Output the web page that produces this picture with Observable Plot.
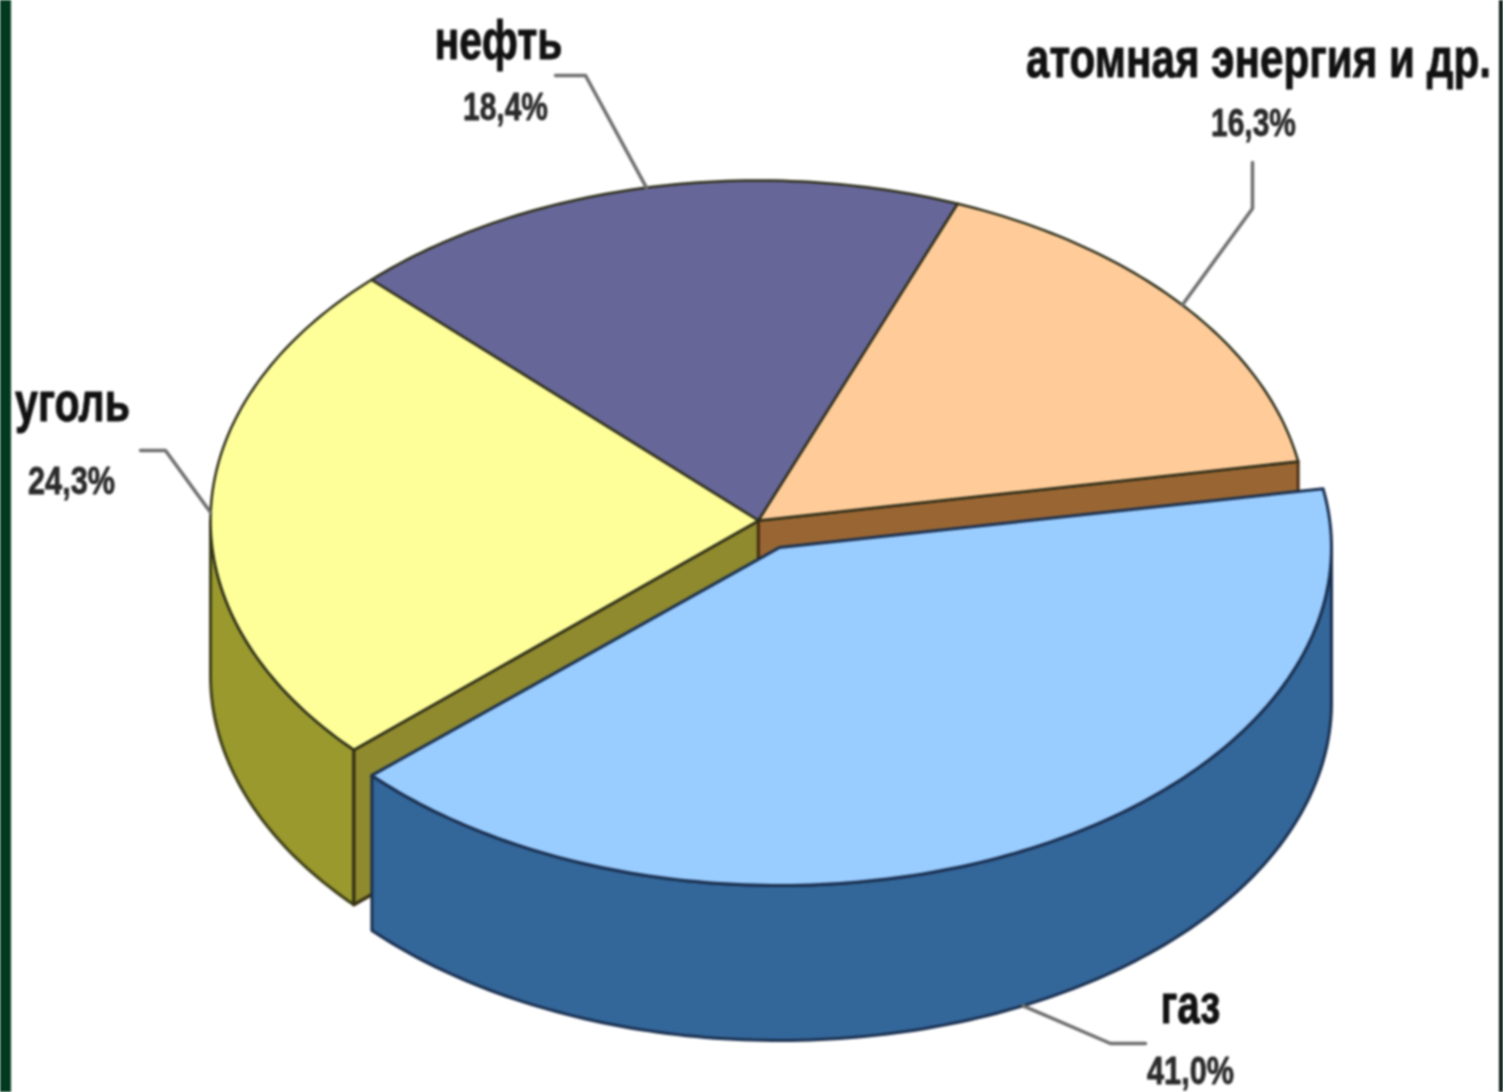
<!DOCTYPE html>
<html>
<head>
<meta charset="utf-8">
<script src="https://cdn.jsdelivr.net/npm/d3@7"></script>
<script src="https://cdn.jsdelivr.net/npm/@observablehq/plot@0.6"></script>
<style>
html,body{margin:0;padding:0;background:#fff;overflow:hidden}
svg{display:block;max-width:none;filter:blur(0.9px)}
</style>
</head>
<body>
<div id="chart"></div>
<script>
// Data, clockwise from the right-hand edge of the gas slice
const categories = ["газ", "уголь", "нефть", "атомная энергия и др."];
const shares = [41.0, 24.3, 18.4, 16.3];
const shareLabels = ["41,0%", "24,3%", "18,4%", "16,3%"];
const topColors = ["#99ccff", "#ffff99", "#666699", "#ffcc99"];
const sideColors = ["#336699", "#99992e", "#666699", "#996633"];

// Layout of the pseudo-3D pie
const W = 1503, H = 1092;
const startAngle = -10, depth = 155;
const mainPie = {cx: 758, cy: 520, rx: 548, ry: 340};
const gasPie = {cx: 779, cy: 547, rx: 552, ry: 338};
const labelStyle = [
  {name: [1190, 1005], pct: [1190, 1071], nameW: 60, pctW: 87, elbow: [[1110, 1043], [1145, 1043]]},
  {name: [72, 403], pct: [71, 481], nameW: 115, pctW: 87, elbow: [[165, 450], [140, 450]]},
  {name: [498, 41], pct: [505, 107], nameW: 128, pctW: 85, elbow: [[585, 75], [555, 75]]},
  {name: [1258, 59], pct: [1253, 123], nameW: 465, pctW: 85, elbow: [[1252, 208], [1252, 162]]}
];

let a = startAngle;
const slices = shares.map((s, i) => {
  const from = a;
  a += s * 3.6;
  return {i, from, to: a, mid: (from + a) / 2, pie: i === 0 ? gasPie : mainPie};
});

const pt = (p, deg, dz = 0) => {
  const t = deg * Math.PI / 180;
  return {x: p.cx + p.rx * Math.cos(t), y: p.cy + p.ry * Math.sin(t) + dz};
};
const arc = (p, from, to, dz = 0) => {
  const n = Math.max(2, Math.ceil(Math.abs(to - from)));
  return d3.range(n + 1).map(k => pt(p, from + (to - from) * k / n, dz));
};
const apex = (p, dz = 0) => ({x: p.cx, y: p.cy + dz});
const close = pts => [...pts, pts[0]];

const poly = (pts, fill, stroke = "#2a2a2a", sw = 2.5) =>
  Plot.line(close(pts), {x: "x", y: "y", fill, stroke, strokeWidth: sw, curve: "linear", strokeLinejoin: "round"});

const [gas, coal, oil, nuclear] = slices;
const marks = [];

// page frame
const frame = (x1, x2, fill) =>
  Plot.rect([{x1, x2, y1: 0, y2: H}], {x1: "x1", x2: "x2", y1: "y1", y2: "y2", fill});
marks.push(frame(0, W, "#ffffff"), frame(0, 11, "#013a20"), frame(1499, W, "#04190f"));

// outer wall of coal
marks.push(poly([...arc(mainPie, coal.from, 180), ...arc(mainPie, 180, coal.from, depth)], sideColors[1], "#3f3f18", 3));
// inner walls exposed by the pulled-out gas slice
marks.push(poly([apex(mainPie), pt(mainPie, coal.from), pt(mainPie, coal.from, depth), apex(mainPie, depth)], "#8f8a2e", "#3a3414", 3.5));
marks.push(poly([apex(mainPie), pt(mainPie, nuclear.to), pt(mainPie, nuclear.to, depth), apex(mainPie, depth)], sideColors[3], "#4a2f14", 3));
// tops of the three slices still in place
for (const s of [coal, oil, nuclear]) {
  marks.push(poly([apex(mainPie), ...arc(mainPie, s.from, s.to)], topColors[s.i], "#2e2e1a"));
}
// gas slice: wall, then top
marks.push(poly([...arc(gasPie, 0, gas.to), ...arc(gasPie, gas.to, 0, depth)], sideColors[0], "#1a3050", 3));
marks.push(poly([apex(gasPie), ...arc(gasPie, gas.from, gas.to)], topColors[0], "#1a3050", 3));

// leader lines and labels
for (const s of slices) {
  const L = labelStyle[s.i];
  const rim = pt(s.pie, s.mid, s.i === 0 ? depth : 0);
  const pts = [rim, ...L.elbow.map(([x, y]) => ({x, y}))];
  marks.push(Plot.line(pts, {x: "x", y: "y", stroke: "#6e6e6e", strokeWidth: 3.5, curve: "linear"}));
  marks.push(Plot.text([categories[s.i]], {
    x: L.name[0], y: L.name[1], text: d => d, fontFamily: "Liberation Sans",
    fontWeight: "bold", fontSize: 56, fill: "#111111", stroke: "#111111", strokeWidth: 1, textAnchor: "middle", lineAnchor: "middle"
  }));
  marks.push(Plot.text([shareLabels[s.i]], {
    x: L.pct[0], y: L.pct[1], text: d => d, fontFamily: "Liberation Sans",
    fontWeight: "bold", fontSize: 38, fill: "#2a2a2a", stroke: "#2a2a2a", strokeWidth: 0.8, textAnchor: "middle", lineAnchor: "middle"
  }));
}

const chart = Plot.plot({
  width: W, height: H, margin: 0,
  x: {domain: [0, W], range: [0, W], axis: null},
  y: {domain: [0, H], range: [0, H], axis: null},
  style: {background: "white"},
  marks
});
document.getElementById("chart").append(chart);

// The reference's lettering is condensed: squeeze each label to its measured width.
const widths = new Map();
labelStyle.forEach((L, i) => {
  widths.set(categories[i], L.nameW);
  widths.set(shareLabels[i], L.pctW);
});
chart.querySelectorAll("text").forEach(t => {
  const w = widths.get(t.textContent);
  if (w) {
    const sx = w / t.getComputedTextLength();
    t.setAttribute("transform", `${t.getAttribute("transform") || ""} scale(${sx},1)`);
  }
});
</script>
</body>
</html>
